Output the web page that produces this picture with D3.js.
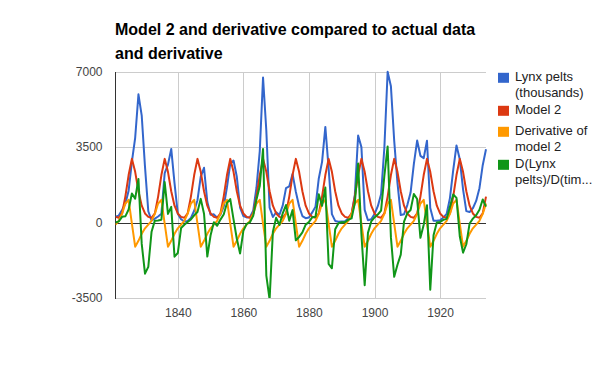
<!DOCTYPE html>
<html>
<head>
<meta charset="utf-8">
<script src="https://cdn.jsdelivr.net/npm/d3@7"></script>
<style>
  body { margin: 0; background: #fff; }
  text { font-family: Arial, "Liberation Sans", sans-serif; }
</style>
</head>
<body>
<div id="chart"></div>
<script>
// years 1821..1934
const years = d3.range(1821, 1935);

const lynx = [
  269, 321, 585, 871, 1475, 2821, 3928, 5943, 4950, 2577,
  523, 98, 184, 279, 409, 2285, 2685, 3409, 1824, 409,
  151, 45, 68, 213, 546, 1033, 2129, 2536, 957, 361,
  377, 225, 360, 731, 1638, 2725, 2871, 2119, 684, 299,
  236, 245, 552, 1623, 3311, 6721, 4254, 687, 255, 473,
  358, 784, 1594, 1676, 2251, 1426, 756, 299, 201, 229,
  469, 736, 2042, 2811, 4431, 2511, 389, 73, 39, 49,
  59, 188, 377, 1292, 4031, 3495, 587, 105, 153, 387,
  758, 1307, 3465, 6991, 6313, 3794, 1836, 345, 382, 808,
  1388, 2713, 3800, 3091, 2985, 3790, 674, 81, 80, 108,
  229, 399, 1132, 2432, 3574, 2935, 1537, 529, 485, 662,
  1000, 1590, 2657, 3396
];

const model2 = [
  260, 220, 420, 1200, 2200, 2950, 2350, 1450, 780, 420,
  260, 220, 420, 1200, 2200, 2950, 2350, 1450, 780, 420,
  260, 220, 420, 1200, 2200, 2950, 2350, 1450, 780, 420,
  260, 220, 420, 1200, 2200, 2950, 2350, 1450, 780, 420,
  260, 220, 420, 1200, 2200, 2950, 2350, 1450, 780, 420,
  260, 220, 420, 1200, 2200, 2950, 2350, 1450, 780, 420,
  260, 220, 420, 1200, 2200, 2950, 2350, 1450, 780, 420,
  260, 220, 420, 1200, 2200, 2950, 2350, 1450, 780, 420,
  260, 220, 420, 1200, 2200, 2950, 2350, 1450, 780, 420,
  260, 220, 420, 1200, 2200, 2950, 2350, 1450, 780, 420,
  260, 220, 420, 1200, 2200, 2950, 2350, 1450, 780, 420,
  260, 220, 420, 1200
];

const model2Deriv = [
  -100, 80, 400, 880, 1050, -50, -1120, -850, -520, -270,
  -100, 80, 400, 880, 1050, -50, -1120, -850, -520, -270,
  -100, 80, 400, 880, 1050, -50, -1120, -850, -520, -270,
  -100, 80, 400, 880, 1050, -50, -1120, -850, -520, -270,
  -100, 80, 400, 880, 1050, -50, -1120, -850, -520, -270,
  -100, 80, 400, 880, 1050, -50, -1120, -850, -520, -270,
  -100, 80, 400, 880, 1050, -50, -1120, -850, -520, -270,
  -100, 80, 400, 880, 1050, -50, -1120, -850, -520, -270,
  -100, 80, 400, 880, 1050, -50, -1120, -850, -520, -270,
  -100, 80, 400, 880, 1050, -50, -1120, -850, -520, -270,
  -100, 80, 400, 880, 1050, -50, -1120, -850, -520, -270,
  -100, 80, 400, 880
];

const lynxDeriv = [
  0, 52, 264, 286, 604, 1346, 1107, 2015, -993, -2373,
  -2054, -425, 86, 95, 130, 1876, 400, 724, -1585, -1415,
  -258, -106, 23, 145, 333, 487, 1096, 407, -1579, -596,
  16, -152, 135, 371, 907, 1087, 146, -752, -1435, -385,
  -63, 9, 307, 1071, 1688, 3410, -2467, -3567, -432, 218,
  -115, 426, 810, 82, 575, -825, -670, -457, -98, 28,
  240, 267, 1306, 769, 1620, -1920, -2122, -316, -34, 10,
  10, 129, 189, 915, 2739, -536, -2908, -482, 48, 234,
  371, 549, 2158, 3526, -678, -2519, -1958, -1491, 37, 426,
  580, 1325, 1087, -709, -106, 805, -3116, -593, -1, 28,
  121, 170, 733, 1300, 1142, -639, -1398, -1008, -44, 177,
  338, 590, 1067, 739
];

const seriesNames = [
  ["Lynx pelts", "(thousands)"],
  ["Model 2"],
  ["Derivative of", "model 2"],
  ["D(Lynx", "pelts)/D(tim..."]
];
const seriesColors = ["#3366cc", "#dc3912", "#ff9900", "#109618"];
const xTicks = [1840, 1860, 1880, 1900, 1920];
const yTicks = [-3500, 0, 3500, 7000];
const titleLines = ["Model 2 and derivative compared to actual data", "and derivative"];

const svgWidth = 600, svgHeight = 371;
const plotLeft = 115.5, plotRight = 486, plotTop = 71.5, plotBottom = 298;

const svg = d3.select("#chart").append("svg")
    .attr("width", svgWidth)
    .attr("height", svgHeight);

const x = d3.scaleLinear().domain([1821, 1934]).range([plotLeft, plotRight]);
const y = d3.scaleLinear().domain([-3500, 7000]).range([plotBottom, plotTop]);

// title
svg.append("g").selectAll("text")
    .data(titleLines)
    .enter().append("text")
    .attr("x", 115)
    .attr("y", (d, i) => 35 + i * 24)
    .attr("font-size", 16)
    .attr("font-weight", "bold")
    .attr("fill", "#000")
    .text(d => d);

// x gridlines + labels
const xAxis = svg.append("g")
    .attr("transform", `translate(0,${plotBottom})`)
    .call(d3.axisBottom(x).tickValues(xTicks).tickFormat(d => String(d))
        .tickSize(-(plotBottom - plotTop)).tickPadding(10));
xAxis.select(".domain").remove();
xAxis.selectAll("line")
    .attr("stroke", "#ccc")
    .attr("shape-rendering", "crispEdges");
xAxis.selectAll("text")
    .attr("font-size", 12)
    .attr("font-family", "Arial, 'Liberation Sans', sans-serif")
    .attr("fill", "#444");

// y gridlines + labels
const yAxis = svg.append("g")
    .attr("transform", `translate(${plotLeft},0)`)
    .call(d3.axisLeft(y).tickValues(yTicks).tickFormat(d => String(d))
        .tickSize(-(plotRight - plotLeft)).tickPadding(13));
yAxis.select(".domain").remove();
yAxis.selectAll("line")
    .attr("stroke", d => d === 0 ? "#333" : "#ccc")
    .attr("shape-rendering", "crispEdges");
yAxis.selectAll("text")
    .attr("font-size", 12)
    .attr("font-family", "Arial, 'Liberation Sans', sans-serif")
    .attr("fill", "#444");

// left axis line
svg.append("line")
    .attr("x1", plotLeft).attr("x2", plotLeft)
    .attr("y1", plotTop).attr("y2", plotBottom + 0.5)
    .attr("stroke", "#333")
    .attr("shape-rendering", "crispEdges");

svg.append("clipPath").attr("id", "plot")
    .append("rect")
    .attr("x", plotLeft).attr("y", plotTop - 2)
    .attr("width", plotRight - plotLeft + 2).attr("height", plotBottom - plotTop + 2);

const line = d3.line()
    .x((d, i) => x(years[i]))
    .y(d => y(d));

const series = [lynx, model2, model2Deriv, lynxDeriv];

svg.append("g").attr("clip-path", "url(#plot)")
    .selectAll("path")
    .data(series)
    .enter().append("path")
    .attr("d", line)
    .attr("fill", "none")
    .attr("stroke", (d, i) => seriesColors[i])
    .attr("stroke-width", 2)
    .attr("stroke-linejoin", "round");

// legend
const legendY = [81.3, 114.3, 135.3, 168.3];
const legend = svg.append("g").selectAll("g")
    .data(seriesNames)
    .enter().append("g")
    .attr("transform", (d, i) => `translate(498,${legendY[i]})`);

legend.append("rect")
    .attr("x", 0).attr("y", -8.5)
    .attr("width", 11).attr("height", 10)
    .attr("fill", (d, i) => seriesColors[i]);

legend.append("text")
    .attr("x", 17)
    .attr("font-size", 13)
    .attr("fill", "#222")
    .selectAll("tspan")
    .data(d => d)
    .enter().append("tspan")
    .attr("x", 17)
    .attr("dy", (d, i) => i === 0 ? 0 : 15.5)
    .text(d => d);
</script>
</body>
</html>
